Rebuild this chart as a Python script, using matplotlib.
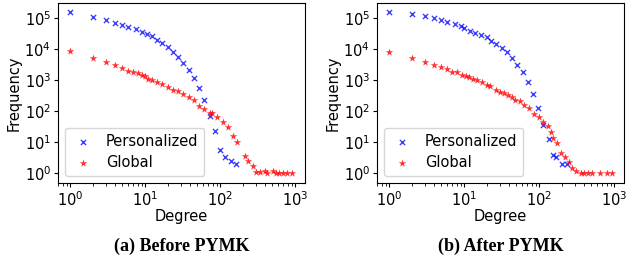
import matplotlib.pyplot as plt
from matplotlib.ticker import LogLocator, NullLocator

# --- Before PYMK ---
before_pers_deg = [1, 2, 3, 4, 5, 6, 7.5, 9, 10.5, 12.5, 14.6, 17, 20, 23.6, 27.8,
                   32.4, 38.6, 45, 53, 62, 73, 86, 99, 115, 139, 163]
before_pers_freq = [1.6e5, 1.13e5, 8.9e4, 7.2e4, 6.2e4, 5.4e4, 4.4e4, 3.7e4, 3.2e4,
                    2.6e4, 2.0e4, 1.55e4, 1.2e4, 8.2e3, 5.8e3, 3.7e3, 2.1e3, 1.15e3,
                    550, 230, 70, 23, 5.7, 3.4, 2.6, 2.05]
before_glob_deg = [1, 2, 3, 4, 5, 6, 7, 8, 9, 10, 11, 12.5, 14.6, 17, 20, 23.6, 27.8,
                   32.4, 38.6, 45, 53, 62, 73, 79, 92, 108, 126, 147, 167, 215, 239,
                   275, 302, 345, 394, 418, 513, 558, 620, 698, 774, 920]
before_glob_freq = [9.1e3, 5.4e3, 4.0e3, 3.1e3, 2.5e3, 2.05e3, 1.8e3, 1.7e3, 1.45e3,
                    1.35e3, 1.1e3, 1.0e3, 890, 750, 625, 500, 440, 350, 290, 225, 150,
                    118, 88, 88, 64, 47, 32, 15.5, 10, 3.6, 2.45, 1.67, 1.1, 1.1, 1.2,
                    1.0, 1.2, 1, 1, 1, 1, 1]

# --- After PYMK ---
after_pers_deg = [1, 2, 3, 4, 5, 6, 7.5, 9, 10, 12, 14, 17, 20, 23, 27, 32, 37, 44,
                  51, 61, 71, 83, 97, 114, 134, 155, 170, 200, 233]
after_pers_freq = [1.6e5, 1.35e5, 1.19e5, 1.0e5, 9.0e4, 7.6e4, 6.7e4, 5.8e4, 4.9e4,
                   4.0e4, 3.4e4, 2.9e4, 2.4e4, 1.9e4, 1.45e4, 1.1e4, 8.0e3, 5.4e3,
                   3.2e3, 1.8e3, 880, 370, 125, 36, 13, 4.0, 3.3, 2.05, 2.05]
after_glob_deg = [1, 2, 3, 4, 5, 6, 7, 8, 9.5, 10.5, 11.5, 13, 15, 17.5, 20, 22, 27,
                  30, 34, 38, 43, 48, 55, 63, 74, 87, 100, 114, 130, 144, 155, 176,
                  198, 220, 248, 275, 310, 360, 398, 450, 514, 650, 798, 930]
after_glob_freq = [8.2e3, 5.2e3, 4.0e3, 3.2e3, 2.7e3, 2.25e3, 1.9e3, 1.85e3, 1.5e3,
                   1.35e3, 1.25e3, 1.1e3, 990, 850, 720, 640, 500, 430, 380, 340, 300,
                   240, 210, 165, 125, 85, 65, 45, 33, 22, 14, 9.3, 4.7, 3.5, 2.3,
                   1.5, 1.2, 1.05, 1, 1, 1, 1, 1, 1]

captions = ["(a) Before PYMK", "(b) After PYMK"]
panels = [
    (before_pers_deg, before_pers_freq, before_glob_deg, before_glob_freq),
    (after_pers_deg, after_pers_freq, after_glob_deg, after_glob_freq),
]

fig = plt.figure(figsize=(6.36, 2.6), dpi=100)
left_edges = [58 / 636, 377 / 636]

for left, (pd_, pf, gd, gf), cap in zip(left_edges, panels, captions):
    ax = fig.add_axes([left, 1 - 183 / 260, 247 / 636, 180 / 260])
    ax.scatter(pd_, pf, marker="x", color="blue", s=14, linewidths=1.0, alpha=0.75,
               label="Personalized")
    ax.scatter(gd, gf, marker="*", color="red", s=32, linewidths=0, alpha=0.8,
               label="Global")
    ax.set_xscale("log")
    ax.set_yscale("log")
    ax.set_xlim(0.69, 1360)
    ax.set_ylim(0.49, 3.1e5)
    ax.yaxis.set_major_locator(LogLocator(base=10, numticks=20))
    ax.yaxis.set_minor_locator(NullLocator())
    ax.tick_params(labelsize=10.5, length=3, pad=2)
    ax.set_xlabel("Degree", fontsize=10.5, labelpad=0)
    ax.set_ylabel("Frequency", fontsize=10.5, labelpad=2)
    ax.legend(loc="lower left", fontsize=10.5, handletextpad=0.8, borderpad=0.4,
              labelspacing=0.4, handlelength=1.6, borderaxespad=0.5)
    fig.text(left + 247 / 636 / 2, 1 - 246 / 260, cap, ha="center", va="center",
             fontsize=13, fontweight="bold", family="Liberation Serif")

fig.savefig("out.png", dpi=100)
